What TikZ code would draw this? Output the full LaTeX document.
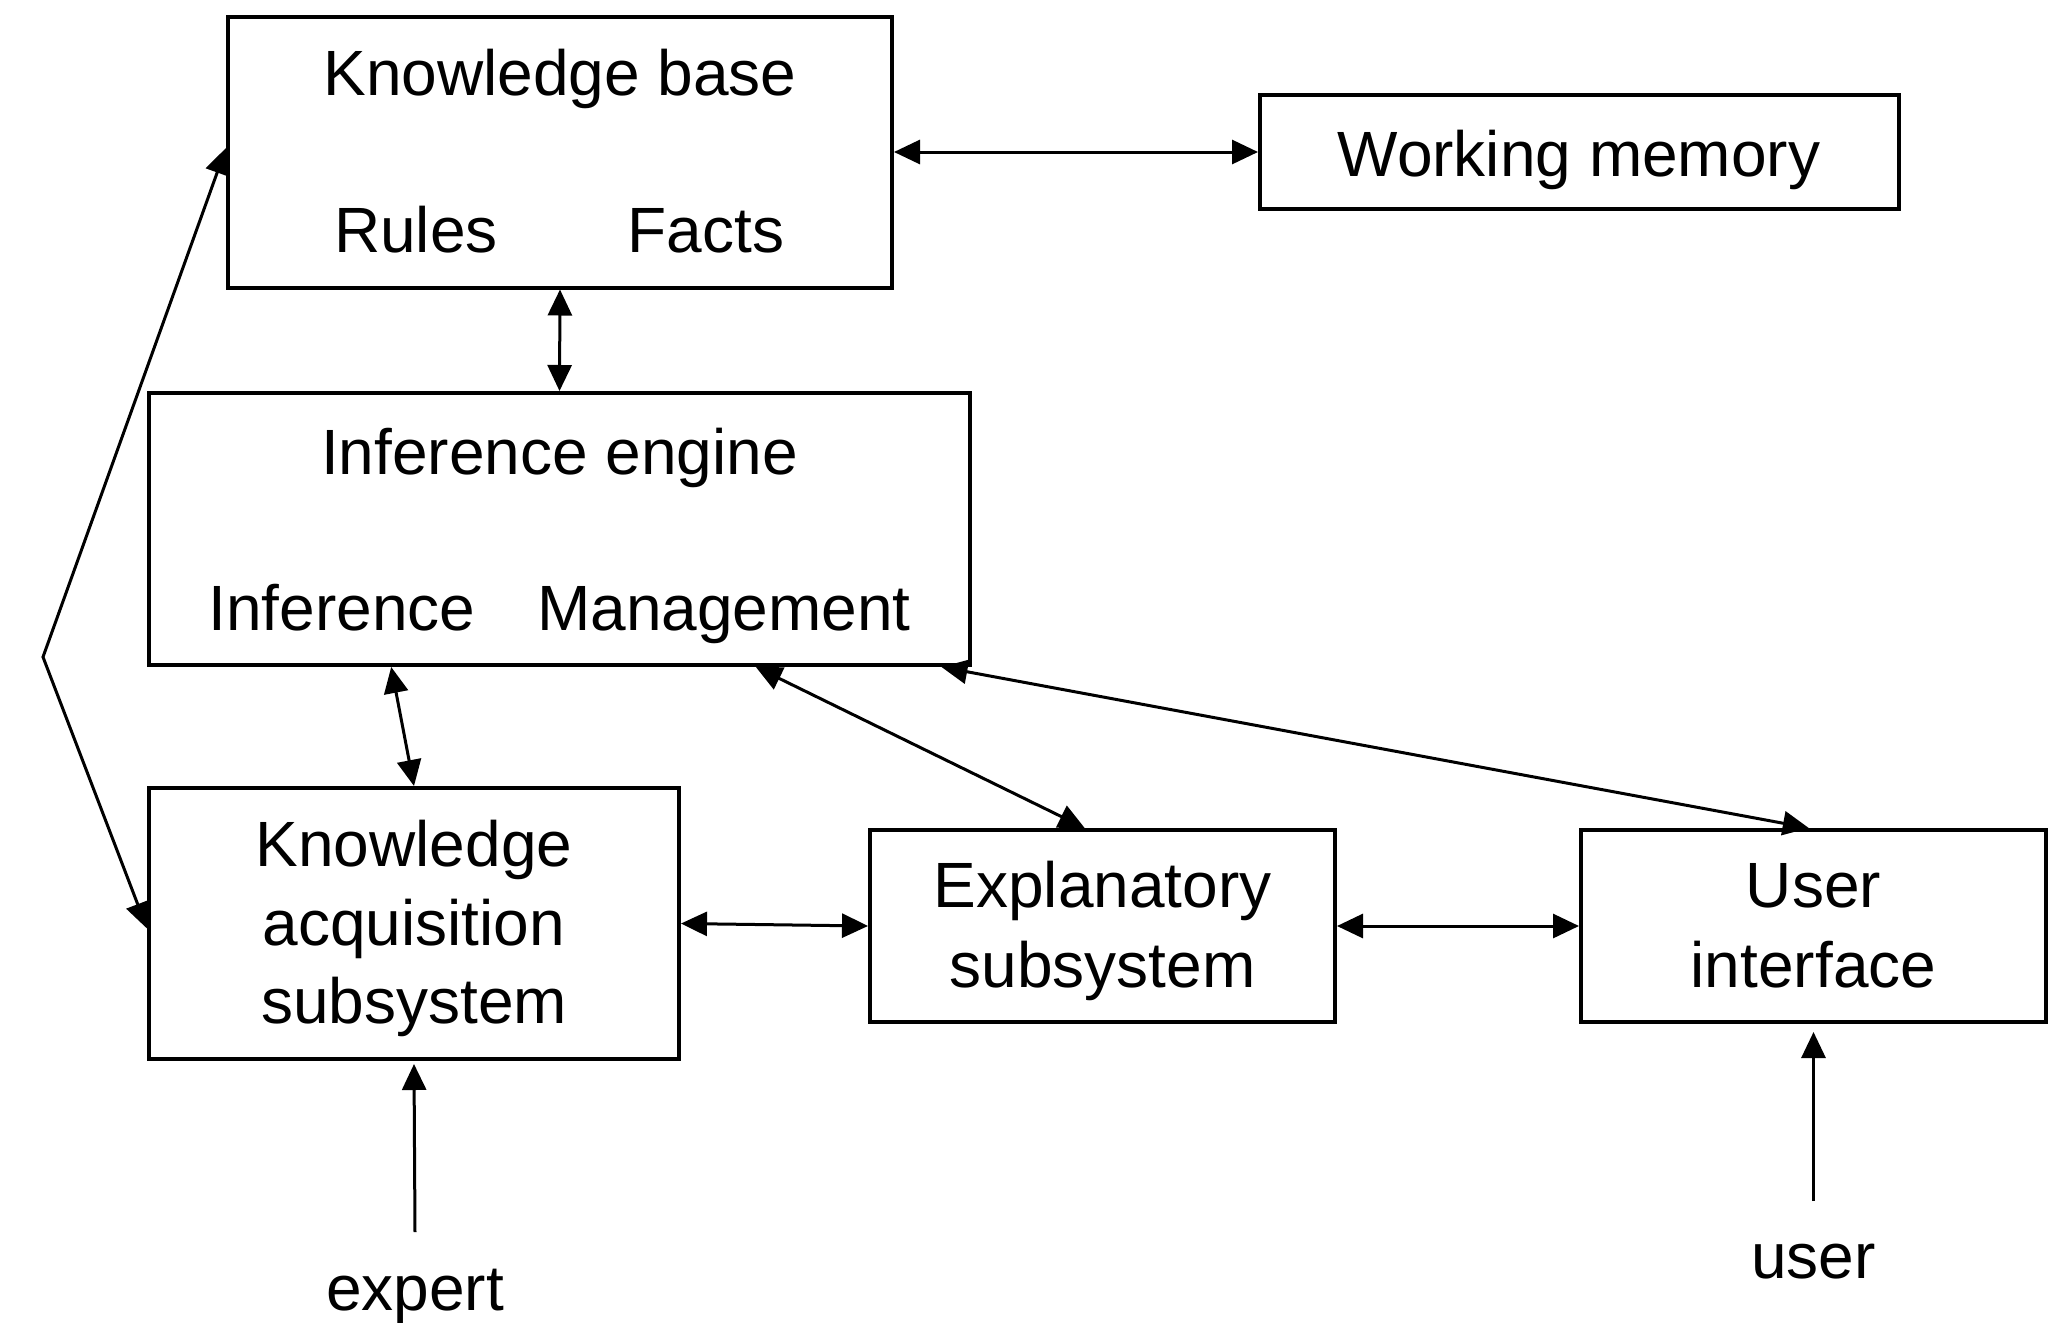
\documentclass[tikz,border=0pt]{standalone}
\usepackage{fontspec}
\setmainfont{Liberation Sans}
\usetikzlibrary{arrows.meta,calc}
\begin{document}
\begin{tikzpicture}[x=1pt,y=-1pt,
  box/.style={draw,line width=4pt,minimum width=#1,inner sep=0pt,rectangle},
  lbl/.style={anchor=base,inner sep=0pt,font=\fontsize{64}{77}\selectfont},
  link/.style={line width=3pt,{Triangle[length=26pt,width=24pt]}-{Triangle[length=26pt,width=24pt]}},
  oneway/.style={line width=3pt,-{Triangle[length=26pt,width=24pt]}}]
\useasboundingbox (0,0) rectangle (2065,1323);
% boxes
\node[box=664pt,minimum height=271pt] (kb) at (560,152) {};
\node[box=639pt,minimum height=114pt] (wm) at (1579.5,152) {};
\node[box=821pt,minimum height=272pt] (ie) at (559.5,529) {};
\node[box=530pt,minimum height=271pt] (ka) at (414,923.5) {};
\node[box=465pt,minimum height=192pt] (ex) at (1102.5,926) {};
\node[box=465pt,minimum height=192pt] (ui) at (1813.5,926) {};
% texts
\node[lbl] (kbt) at (560,95) {Knowledge base};
\node[lbl] (rules) at (416,252) {Rules};
\node[lbl] (facts) at (706,252) {Facts};
\node[lbl] (wmt) at (1579,176) {Working memory};
\node[lbl] (iet) at (559.5,474) {Inference engine};
\node[lbl] (inf) at (342,630) {Inference};
\node[lbl] (mgmt) at (724,630) {Management};
\node[lbl] (ka1) at (414,866) {Knowledge};
\node[lbl] (ka2) at (414,945) {acquisition};
\node[lbl] (ka3) at (414,1023) {subsystem};
\node[lbl] (ex1) at (1102.5,907) {Explanatory};
\node[lbl] (ex2) at (1102.5,987) {subsystem};
\node[lbl] (ui1) at (1813.5,907) {User};
\node[lbl] (ui2) at (1813.5,987) {interface};
\node[lbl] (expert) at (415,1310) {expert};
\node[lbl] (user) at (1813.5,1278) {user};
% free ends
\coordinate (bend) at (43,657);
\coordinate (expstart) at (415,1232);
\coordinate (userstart) at (1813.5,1201);
% connectors
\draw[link] (kb.east) -- (wm.west);
\draw[link] (kb.south) -- (ie.north);
\draw[link] ($(ie.south west)!0.296!(ie.south east)$) -- (ka.north);
\draw[link] ($(ie.south west)!0.738!(ie.south east)$) -- ($(ex.north west)!0.462!(ex.north east)$);
\draw[link] ($(ie.south west)!0.963!(ie.south east)$) -- ($(ui.north west)!0.49!(ui.north east)$);
\draw[link] (ka.east) -- (ex.west);
\draw[link] (ex.east) -- (ui.west);
\draw[link] ([yshift=4pt]kb.west) -- (bend) -- ([yshift=-5pt]ka.west);
\draw[oneway] (expstart) -- ([yshift=-3pt]ka.south);
\draw[oneway] (userstart) -- ([yshift=-8pt]ui.south);
\end{tikzpicture}
\end{document}
